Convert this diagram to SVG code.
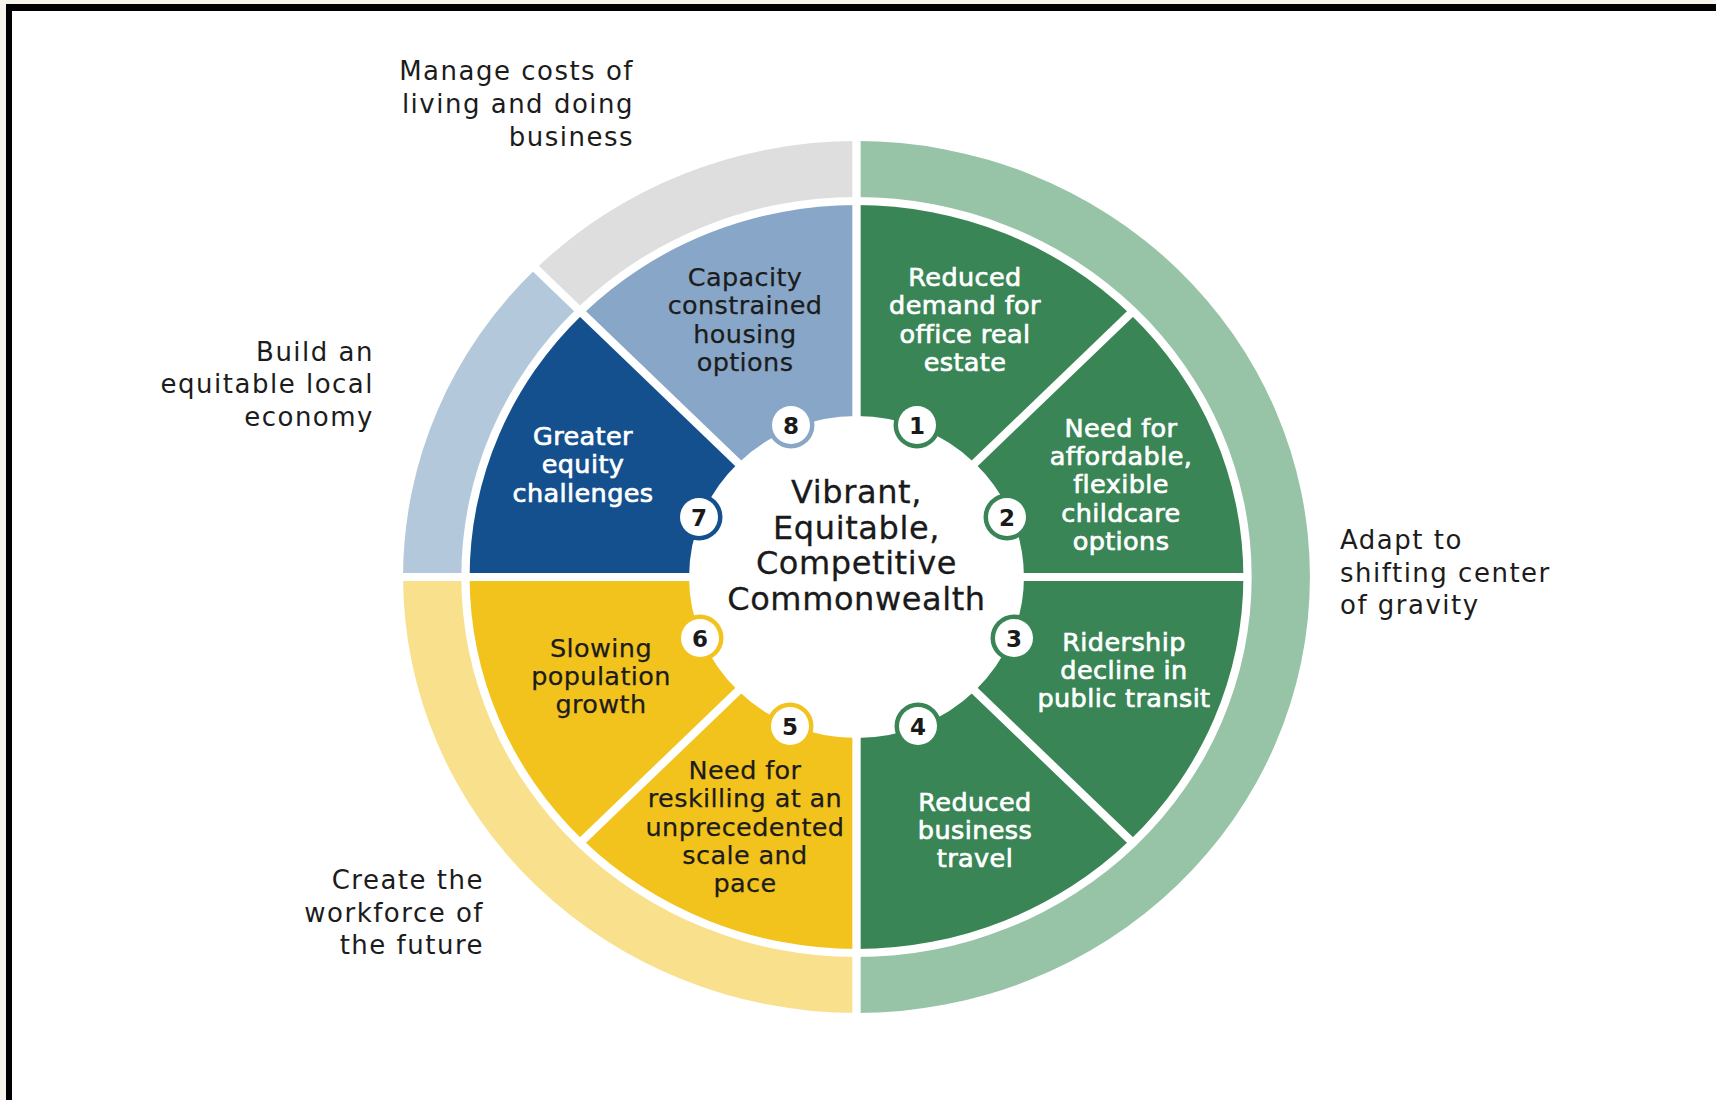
<svg xmlns="http://www.w3.org/2000/svg" width="1716" height="1100" viewBox="0 0 1716 1100">
  <style>
    .lbl { font-family: "DejaVu Sans", "Liberation Sans", sans-serif; font-size: 26px; letter-spacing: 1.5px; fill: #1c1c1c; }
    .seg-w { font-family: "DejaVu Sans", "Liberation Sans", sans-serif; font-size: 25.5px; letter-spacing: 0.4px; fill: #ffffff; stroke: #ffffff; stroke-width: 0.7px; text-anchor: middle; }
    .seg-d { font-family: "DejaVu Sans", "Liberation Sans", sans-serif; font-size: 25.5px; letter-spacing: 0.4px; fill: #1c1c1c; stroke: #1c1c1c; stroke-width: 0.25px; text-anchor: middle; }
    .hub { font-family: "DejaVu Sans", "Liberation Sans", sans-serif; font-size: 32px; letter-spacing: 0.6px; fill: #1a1a1a; stroke: #1a1a1a; stroke-width: 0.3px; text-anchor: middle; }
    .num { font-family: "DejaVu Sans", "Liberation Sans", sans-serif; font-size: 23px; font-weight: bold; fill: #1a1a1a; text-anchor: middle; }
    .divider { stroke: #ffffff; stroke-width: 8; fill: none; }
    .green { fill: #3a8556; }
    .green-lt { fill: #97c3a6; }
    .yellow { fill: #f2c31c; }
    .yellow-lt { fill: #f8e08d; }
    .navy { fill: #15508e; }
    .steel { fill: #88a6c7; }
    .steel-lt { fill: #b4c8dc; }
    .grey-lt { fill: #dedede; }
  </style>

  <!-- page and frame -->
  <rect x="0" y="0" width="1716" height="1100" fill="#ffffff"/>
  <rect x="0" y="0" width="1716" height="4" fill="#f7f4ec"/>
  <rect x="0" y="0" width="6" height="1100" fill="#f7f4ec"/>
  <rect x="6" y="4" width="1710" height="7" fill="#000000"/>
  <rect x="6" y="4" width="6" height="1096" fill="#000000"/>

  <!-- wheel: slightly wider than tall -->
  <g id="wheel" transform="translate(856.5,577) scale(1.04,1)">
    <!-- outer theme ring -->
    <g id="ring-adapt"><path class="green-lt" d="M0,-436 A436,436 0 0 1 436,0 A436,436 0 0 1 0,436 L0,380 A380,380 0 0 0 380,0 A380,380 0 0 0 0,-380 Z"/></g>
    <g id="ring-workforce"><path class="yellow-lt" d="M0,436 A436,436 0 0 1 -436,0 L-380,0 A380,380 0 0 0 0,380 Z"/></g>
    <g id="ring-equity"><path class="steel-lt" d="M-436,0 A436,436 0 0 1 -308.3,-308.3 L-268.7,-268.7 A380,380 0 0 0 -380,0 Z"/></g>
    <g id="ring-costs"><path class="grey-lt" d="M-308.3,-308.3 A436,436 0 0 1 0,-436 L0,-380 A380,380 0 0 0 -268.7,-268.7 Z"/></g>

    <!-- inner challenge segments -->
    <g id="seg1"><path class="green" d="M0,-372 A372,372 0 0 1 263.04,-263.04 L113.84,-113.84 A161,161 0 0 0 0,-161 Z"/></g>
    <g id="seg2"><path class="green" d="M263.04,-263.04 A372,372 0 0 1 372,0 L161,0 A161,161 0 0 0 113.84,-113.84 Z"/></g>
    <g id="seg3"><path class="green" d="M372,0 A372,372 0 0 1 263.04,263.04 L113.84,113.84 A161,161 0 0 0 161,0 Z"/></g>
    <g id="seg4"><path class="green" d="M263.04,263.04 A372,372 0 0 1 0,372 L0,161 A161,161 0 0 0 113.84,113.84 Z"/></g>
    <g id="seg5"><path class="yellow" d="M0,372 A372,372 0 0 1 -263.04,263.04 L-113.84,113.84 A161,161 0 0 0 0,161 Z"/></g>
    <g id="seg6"><path class="yellow" d="M-263.04,263.04 A372,372 0 0 1 -372,0 L-161,0 A161,161 0 0 0 -113.84,113.84 Z"/></g>
    <g id="seg7"><path class="navy" d="M-372,0 A372,372 0 0 1 -263.04,-263.04 L-113.84,-113.84 A161,161 0 0 0 -161,0 Z"/></g>
    <g id="seg8"><path class="steel" d="M-263.04,-263.04 A372,372 0 0 1 0,-372 L0,-161 A161,161 0 0 0 -113.84,-113.84 Z"/></g>

    <!-- white separators -->
    <g id="separators" class="divider">
      <line x1="0" y1="-445" x2="0" y2="-150"/>
      <line x1="0" y1="150" x2="0" y2="445"/>
      <line x1="-445" y1="0" x2="-150" y2="0"/>
      <line x1="150" y1="0" x2="376" y2="0"/>
      <line x1="106.07" y1="-106.07" x2="265.87" y2="-265.87"/>
      <line x1="106.07" y1="106.07" x2="265.87" y2="265.87"/>
      <line x1="-106.07" y1="106.07" x2="-265.87" y2="265.87"/>
      <line x1="-106.07" y1="-106.07" x2="-314.66" y2="-314.66"/>
    </g>
  </g>

  <!-- numbered badges -->
  <g id="badge1"><circle cx="917" cy="425" r="23.5" class="green"/><circle cx="917" cy="425" r="19" fill="#fff"/><text class="num" x="917" y="433.5">1</text></g>
  <g id="badge2"><circle cx="1007" cy="517" r="23.5" class="green"/><circle cx="1007" cy="517" r="19" fill="#fff"/><text class="num" x="1007" y="525.5">2</text></g>
  <g id="badge3"><circle cx="1014" cy="638" r="23.5" class="green"/><circle cx="1014" cy="638" r="19" fill="#fff"/><text class="num" x="1014" y="646.5">3</text></g>
  <g id="badge4"><circle cx="918" cy="726" r="23.5" class="green"/><circle cx="918" cy="726" r="19" fill="#fff"/><text class="num" x="918" y="734.5">4</text></g>
  <g id="badge5"><circle cx="790" cy="726" r="23.5" class="yellow"/><circle cx="790" cy="726" r="19" fill="#fff"/><text class="num" x="790" y="734.5">5</text></g>
  <g id="badge6"><circle cx="700" cy="638" r="23.5" class="yellow"/><circle cx="700" cy="638" r="19" fill="#fff"/><text class="num" x="700" y="646.5">6</text></g>
  <g id="badge7"><circle cx="699" cy="517" r="23.5" class="navy"/><circle cx="699" cy="517" r="19" fill="#fff"/><text class="num" x="699" y="525.5">7</text></g>
  <g id="badge8"><circle cx="791" cy="425" r="23.5" class="steel"/><circle cx="791" cy="425" r="19" fill="#fff"/><text class="num" x="791" y="433.5">8</text></g>

  <!-- segment texts -->
  <g id="text-seg1"><text class="seg-w"><tspan x="965" y="286">Reduced</tspan><tspan x="965" y="314.3">demand for</tspan><tspan x="965" y="342.6">office real</tspan><tspan x="965" y="371">estate</tspan></text></g>
  <g id="text-seg2"><text class="seg-w"><tspan x="1121" y="436.7">Need for</tspan><tspan x="1121" y="465">affordable,</tspan><tspan x="1121" y="493.3">flexible</tspan><tspan x="1121" y="521.7">childcare</tspan><tspan x="1121" y="550">options</tspan></text></g>
  <g id="text-seg3"><text class="seg-w"><tspan x="1124" y="650.7">Ridership</tspan><tspan x="1124" y="679">decline in</tspan><tspan x="1124" y="707.3">public transit</tspan></text></g>
  <g id="text-seg4"><text class="seg-w"><tspan x="975" y="810.7">Reduced</tspan><tspan x="975" y="839">business</tspan><tspan x="975" y="867.3">travel</tspan></text></g>
  <g id="text-seg5"><text class="seg-d"><tspan x="745" y="779">Need for</tspan><tspan x="745" y="807.3">reskilling at an</tspan><tspan x="745" y="835.7">unprecedented</tspan><tspan x="745" y="864">scale and</tspan><tspan x="745" y="892.3">pace</tspan></text></g>
  <g id="text-seg6"><text class="seg-d"><tspan x="601" y="656.7">Slowing</tspan><tspan x="601" y="685">population</tspan><tspan x="601" y="713.3">growth</tspan></text></g>
  <g id="text-seg7"><text class="seg-w"><tspan x="583" y="445">Greater</tspan><tspan x="583" y="473.3">equity</tspan><tspan x="583" y="501.7">challenges</tspan></text></g>
  <g id="text-seg8"><text class="seg-d"><tspan x="745" y="286">Capacity</tspan><tspan x="745" y="314.3">constrained</tspan><tspan x="745" y="342.6">housing</tspan><tspan x="745" y="371">options</tspan></text></g>

  <!-- hub -->
  <g id="hub"><text class="hub"><tspan x="856.5" y="503">Vibrant,</tspan><tspan x="856.5" y="538.5">Equitable,</tspan><tspan x="856.5" y="574">Competitive</tspan><tspan x="856.5" y="609.5">Commonwealth</tspan></text></g>

  <!-- theme labels -->
  <g id="label-costs"><text class="lbl" text-anchor="end"><tspan x="634" y="80">Manage costs of</tspan><tspan x="634" y="112.8">living and doing</tspan><tspan x="634" y="145.6">business</tspan></text></g>
  <g id="label-equity"><text class="lbl" text-anchor="end"><tspan x="374" y="360.5">Build an</tspan><tspan x="374" y="393">equitable local</tspan><tspan x="374" y="426">economy</tspan></text></g>
  <g id="label-adapt"><text class="lbl" text-anchor="start"><tspan x="1340" y="548.5">Adapt to</tspan><tspan x="1340" y="581.5">shifting center</tspan><tspan x="1340" y="614">of gravity</tspan></text></g>
  <g id="label-workforce"><text class="lbl" text-anchor="end"><tspan x="484" y="889">Create the</tspan><tspan x="484" y="921.7">workforce of</tspan><tspan x="484" y="953.5">the future</tspan></text></g>

  <!-- no connectors in this figure -->
  <g id="connectors"/>
</svg>
